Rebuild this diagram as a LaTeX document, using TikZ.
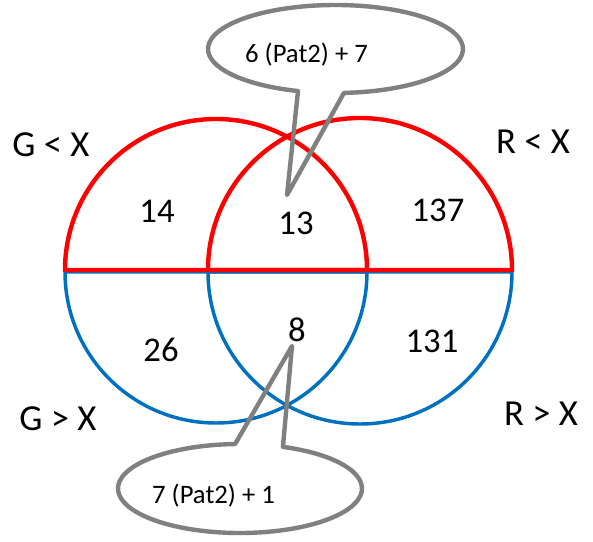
\documentclass[tikz,border=0pt]{standalone}
\usepackage{fontspec}
\setmainfont{Carlito}
\definecolor{vennred}{RGB}{255,0,0}
\definecolor{vennblue}{RGB}{0,112,192}
\definecolor{bubblegray}{RGB}{128,128,128}

\begin{document}
\begin{tikzpicture}[x=0.75pt,y=-0.75pt,
        redhalf/.style={draw=vennred, line width=3.3pt},
        bluehalf/.style={draw=vennblue, line width=2.6pt},
        count/.style={font=\fontsize{26}{30}\selectfont},
        setlabel/.style={font=\fontsize{27.5}{30}\selectfont},
        bubble/.style={draw=bubblegray, line width=3.3pt, line join=round},
        bubbletext/.style={font=\fontsize{20}{24}\selectfont, anchor=base}]
    \useasboundingbox (0,0) rectangle (593,542);
    % lower halves
    \draw[bluehalf] (65,272) arc[start angle=180, end angle=0, radius=151] -- cycle;
    \draw[bluehalf] (208,272) arc[start angle=180, end angle=0, radius=152] -- cycle;
    % upper halves
    \draw[redhalf] (65,270) arc[start angle=180, end angle=360, radius=151] -- cycle;
    \draw[redhalf] (208,270) arc[start angle=180, end angle=360, radius=152] -- cycle;

    \node[setlabel] (gless) at (51,145) {G < X};
    \node[setlabel] (rless) at (533,142) {R < X};
    \node[setlabel] (gmore) at (58,419) {G > X};
    \node[setlabel] (rmore) at (541,414) {R > X};

    \node[count] (n14) at (157,211) {14};
    \node[count] (n13) at (296,223) {13};
    \node[count] (n137) at (438,210) {137};
    \node[count] (n26) at (161,350) {26};
    \node[count] (n8) at (297,330) {8};
    \node[count] (n131) at (432,341) {131};

    % callouts
    \coordinate (tip13) at (287,195);
    \coordinate (tip8) at (292,346);
    \coordinate (bub7) at (335.5,49);
    \coordinate (bub1) at (240,488.5);
    \draw[bubble] (bub7) ++(86.2:127.5 and 44)
        arc[start angle=86.2, end angle=-252.9, x radius=127.5, y radius=44]
        -- (tip13) -- cycle;
    \draw[bubble] (bub1) ++(-69.4:122 and 44.5)
        arc[start angle=-69.4, end angle=267.7, x radius=122, y radius=44.5]
        -- (tip8) -- cycle;
    \node[bubbletext] (pat7) at (306.5,62.5) {6 (Pat2) + 7};
    \node[bubbletext] (pat1) at (213.5,503) {7 (Pat2) + 1};
\end{tikzpicture}
\end{document}
